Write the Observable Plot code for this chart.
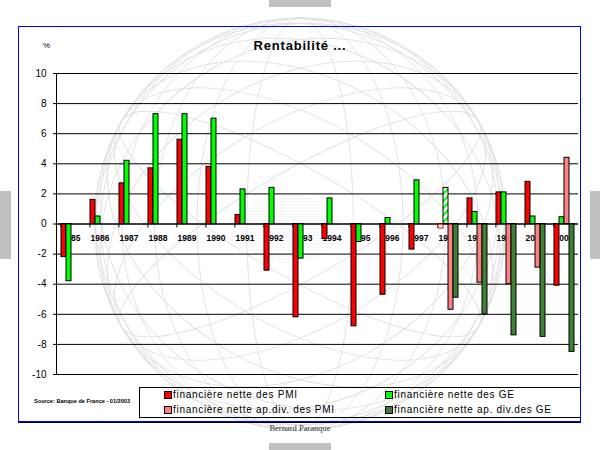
<!DOCTYPE html>
<html>
<head>
<meta charset="utf-8">
<script src="https://cdn.jsdelivr.net/npm/d3@7"></script>
<script src="https://cdn.jsdelivr.net/npm/@observablehq/plot@0.6"></script>
<style>
  body { margin: 0; background: #fff; }
  #wrap { position: relative; width: 600px; height: 450px; overflow: hidden; font-family: "Liberation Sans", Arial, sans-serif; }
  .tab { position: absolute; background: #c0c0c0; }
  #frame { position: absolute; left: 18px; top: 26px; width: 561px; height: 394px; border: 1.5px solid #0000ff; box-shadow: 0 1px 0 #000; }
  #chart { position: absolute; left: 0; top: 0; }
  #title { position: absolute; left: 0; width: 600px; top: 38px; text-align: center; font-weight: bold; font-size: 13px; letter-spacing: 0.8px; color: #000; }
  #pct { position: absolute; left: 43px; top: 41px; font-size: 8px; color: #000; }
  #legend { position: absolute; left: 139px; top: 387px; width: 441px; height: 29px; border: 1px solid #000; border-right: none; }
  .item { position: absolute; font-size: 10px; letter-spacing: 0.7px; color: #000; white-space: nowrap; line-height: 12px; }
  .sw { display: inline-block; width: 6px; height: 6px; border: 1px solid #000; margin-right: 1px; vertical-align: -1px; }
  #source { position: absolute; left: 34px; top: 398px; font-size: 5.6px; font-weight: bold; color: #000; white-space: nowrap; }
  #author { position: absolute; left: 0; width: 600px; top: 423px; text-align: center; font-family: "Liberation Serif", "Times New Roman", serif; font-size: 8.5px; color: #333; }
</style>
</head>
<body>
<div id="wrap">
  <svg id="wm" width="600" height="450" style="position:absolute;left:0;top:0"></svg>
  <div class="tab" style="left:269px;top:0;width:62px;height:7px"></div>
  <div class="tab" style="left:269px;top:443px;width:62px;height:7px"></div>
  <div class="tab" style="left:0;top:191px;width:11px;height:68px"></div>
  <div class="tab" style="left:590px;top:191px;width:10px;height:68px"></div>
  <div id="frame"></div>
  <div id="chart"></div>
  <div id="title">Rentabilité ...</div>
  <div id="pct">%</div>
  <div id="legend"></div>
  <div id="source">Source: Banque de France - 01/2003</div>
  <div id="author">Bernard Paranque</div>
</div>
<script>
// ---- data ----
const categories = ["1985","1986","1987","1988","1989","1990","1991","1992","1993","1994","1995","1996","1997","1997b","1998","1999","2000","2001"];
const tickLabels = ["1985","1986","1987","1988","1989","1990","1991","1992","1993","1994","1995","1996","1997","1997","1998","1999","2000","2001"];
const pmi    = [-2.2, 1.6, 2.7, 3.7, 5.6, 3.8, 0.6, -3.1, -6.2, -1.0, -6.8, -4.7, -1.7, -0.3, 1.7, 2.1, 2.8, -4.1];
const ge     = [-3.8, 0.5, 4.2, 7.3, 7.3, 7.0, 2.3, 2.4, -2.3, 1.7, -1.2, 0.4, 2.9, 2.4, 0.8, 2.1, 0.5, 0.45];
const pmiDiv = [null, null, null, null, null, null, null, null, null, null, null, null, null, -5.7, -3.9, -4.0, -2.9, 4.4];
const geDiv  = [null, null, null, null, null, null, null, null, null, null, null, null, null, -4.9, -6.0, -7.4, -7.5, -8.5];
const yTicks = [-10, -8, -6, -4, -2, 0, 2, 4, 6, 8, 10];
const seriesKeys = ["pmi", "ge", "pmiDiv", "geDiv"];
const seriesNames = ["financière nette des PMI", "financière nette des GE", "financière nette ap.div. des PMI", "financière nette ap. div.des GE"];
const seriesColors = ["#ff0000", "#00ff00", "#ff8080", "#3f7f37"];
const provisionalCat = "1997b";

// ---- table ----
const seriesValues = [pmi, ge, pmiDiv, geDiv];
const rows = [];
categories.forEach((cat, i) => seriesKeys.forEach((s, j) => {
  const v = seriesValues[j][i];
  if (v != null) rows.push({cat, series: s, value: v});
}));
const catRows = categories.map((cat, i) => ({cat, label: tickLabels[i]}));
const isProv = d => d.cat === provisionalCat && (d.series === "pmi" || d.series === "ge");

// ---- watermark ----
(function () {
  const wm = d3.select("#wm");
  const cx = 300, cy = 224, R = 206;
  const g = wm.append("g").attr("fill", "none").attr("stroke", "#e0e0e0").attr("stroke-width", 0.9);
  g.append("circle").attr("cx", cx).attr("cy", cy).attr("r", R);
  for (const rot of [0, 60, 120]) {
    for (let k = 1; k <= 5; k++) {
      g.append("ellipse").attr("cx", cx).attr("cy", cy)
        .attr("rx", R * Math.sin(k * Math.PI / 12)).attr("ry", R)
        .attr("transform", `rotate(${rot},${cx},${cy})`);
    }
  }
  const h = wm.append("g").attr("stroke", "#ececec").attr("stroke-width", 0.8);
  for (let y = 196; y <= 262; y += 3) {
    const t = (y - 229) / 34;
    const half = 50 * Math.sqrt(Math.max(0, 1 - t * t));
    h.append("line").attr("x1", 290 - half).attr("x2", 290 + half).attr("y1", y).attr("y2", y);
  }
})();

// ---- chart ----
const W = 600, H = 450, ML = 52, MR = 19, MT = 73, MB = 76;
const facetW = (W - ML - MR) / categories.length;
const padOuter = 0.53;
const step = facetW / (seriesKeys.length + 2 * padOuter);

const chart = Plot.plot({
  width: W, height: H,
  marginLeft: ML, marginRight: MR, marginTop: MT, marginBottom: MB,
  style: {background: "transparent", overflow: "visible", fontFamily: "Liberation Sans, Arial, sans-serif", fontSize: "10px", color: "#000"},
  fx: {domain: categories, padding: 0, axis: null},
  x: {domain: seriesKeys, paddingInner: 0, paddingOuter: padOuter, axis: null},
  y: {domain: [-10, 10], label: null},
  color: {domain: seriesKeys, range: seriesColors},
  marks: [
    Plot.ruleY(yTicks, {stroke: "#000", strokeWidth: 1}),
    Plot.text(catRows, {fx: "cat", y: 0, text: "label", dy: 14, fontSize: 8.5, fontWeight: "bold", fill: "#000",
      fontFamily: "Liberation Sans Narrow, Arial Narrow, Liberation Sans, sans-serif"}),
    Plot.ruleX(catRows, {fx: "cat", x: () => seriesKeys[0], y1: 0, y2: 0, insetBottom: -4, dx: -step * padOuter, stroke: "#000"}),
    Plot.barY(rows.filter(d => !isProv(d)), {fx: "cat", x: "series", y: "value", fill: "series", stroke: "#000", strokeWidth: 1}),
    Plot.barY(rows.filter(d => isProv(d) && d.series === "pmi"), {fx: "cat", x: "series", y: "value", fill: "#fff", stroke: "#ff0000", strokeWidth: 1}),
    Plot.barY(rows.filter(d => isProv(d) && d.series === "ge"), {fx: "cat", x: "series", y: "value", fill: "url(#hatchGE)", stroke: "#000", strokeWidth: 1}),
    Plot.ruleY([0], {stroke: "#000", strokeWidth: 1}),
    Plot.frame({anchor: "left", facetAnchor: "left", stroke: "#000"}),
    Plot.axisY({ticks: yTicks, label: null, tickSize: 3, tickPadding: 7, tickFormat: d => String(d), fill: "#000", stroke: "#000", fontSize: 10})
  ]
});
document.getElementById("chart").appendChild(chart);
const svg = chart.tagName.toLowerCase() === "svg" ? chart : chart.querySelector("svg");
d3.select(svg).insert("defs", ":first-child").html(
  '<pattern id="hatchGE" patternUnits="userSpaceOnUse" width="5" height="5" patternTransform="rotate(45)">' +
  '<rect width="5" height="5" fill="#fff"/><rect x="0" y="0" width="2.2" height="5" fill="#00ff00"/></pattern>'
);

// ---- legend ----
const legend = d3.select("#legend");
const pos = [[24, 0], [245, 0], [24, 15], [245, 15]];
seriesNames.forEach((name, i) => {
  const it = legend.append("div").attr("class", "item")
    .style("left", pos[i][0] + "px").style("top", (pos[i][1] + 1) + "px");
  it.append("span").attr("class", "sw").style("background", seriesColors[i]);
  it.append("span").text(name);
});
</script>
</body>
</html>
